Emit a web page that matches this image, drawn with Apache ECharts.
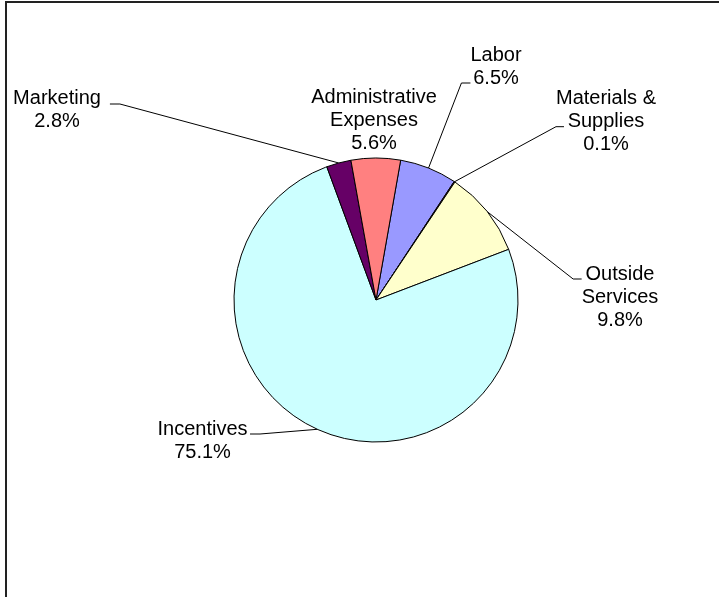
<!DOCTYPE html>
<html>
<head>
<meta charset="utf-8">
<script src="https://cdn.jsdelivr.net/npm/echarts@6/dist/echarts.min.js"></script>
<style>
  html, body { margin: 0; padding: 0; background: #fff; }
  #chart { width: 719px; height: 597px; }
</style>
</head>
<body>
<div id="chart"></div>
<script>
// Budget breakdown, drawn clockwise starting with Labor
const categories = ['Labor', 'Materials &\nSupplies', 'Outside\nServices', 'Incentives', 'Marketing', 'Administrative\nExpenses'];
const shares = [6.5, 0.1, 9.8, 75.1, 2.8, 5.6];
const sliceColors = ['#9999FF', '#993366', '#FFFFCC', '#CCFFFF', '#660066', '#FF8080'];

// Where each label block sits (centre) and how its leader line meets it
const labelSpots = [
  { x: 496,   y: 67,    side: 'left',  dy: 16,   gap: 0,   tick: 9 },
  { x: 606,   y: 121.5, side: 'left',  dy: 5.2,  gap: -8,  tick: 8 },
  { x: 620,   y: 297,   side: 'left',  dy: -18,  gap: 0,   tick: 8.5 },
  { x: 202.5, y: 441,   side: 'right', dy: -7,   gap: 2.5, tick: 10 },
  { x: 57,    y: 109.5, side: 'right', dy: -5.5, gap: 9,   tick: 10 },
  { x: 374,   y: 120.5, side: 'none' }
];

const chart = echarts.init(document.getElementById('chart'), null, { renderer: 'canvas' });

const pieData = categories.map((name, i) => ({
  name: name,
  value: shares[i],
  itemStyle: { color: sliceColors[i] },
  labelLine: { show: labelSpots[i].side !== 'none' }
}));

chart.setOption({
  animation: false,
  backgroundColor: '#ffffff',
  graphic: [{
    type: 'rect',
    shape: { x: 6, y: 2, width: 780, height: 680 },
    style: { fill: 'none', stroke: '#222', lineWidth: 2 },
    silent: true
  }],
  series: [{
    type: 'pie',
    center: [376, 300],
    radius: 142,
    startAngle: 80,
    clockwise: true,
    avoidLabelOverlap: false,
    data: pieData,
    itemStyle: { borderColor: '#000', borderWidth: 1 },
    label: {
      show: true,
      position: 'outside',
      color: '#000',
      fontFamily: 'Liberation Sans, Arial, sans-serif',
      fontSize: 20,
      lineHeight: 23,
      align: 'center',
      formatter: p => p.name + '\n' + p.value.toFixed(1) + '%'
    },
    labelLine: {
      show: true,
      length: 10,
      length2: 10,
      lineStyle: { color: '#000', width: 1 }
    },
    labelLayout: function (params) {
      const s = labelSpots[params.dataIndex];
      const out = { x: s.x, y: s.y, align: 'center', verticalAlign: 'middle' };
      if (s.side !== 'none' && params.labelLinePoints) {
        const anchor = params.labelLinePoints[0];
        const w = params.labelRect.width;
        const ly = s.y + s.dy;
        let endX, elbowX;
        if (s.side === 'left') {
          endX = s.x - w / 2 - s.gap;
          elbowX = endX - s.tick;
        } else {
          endX = s.x + w / 2 + s.gap;
          elbowX = endX + s.tick;
        }
        out.labelLinePoints = [[anchor[0], anchor[1]], [elbowX, ly], [endX, ly]];
      }
      return out;
    },
    emphasis: { disabled: true },
    silent: true
  }]
});
</script>
</body>
</html>
